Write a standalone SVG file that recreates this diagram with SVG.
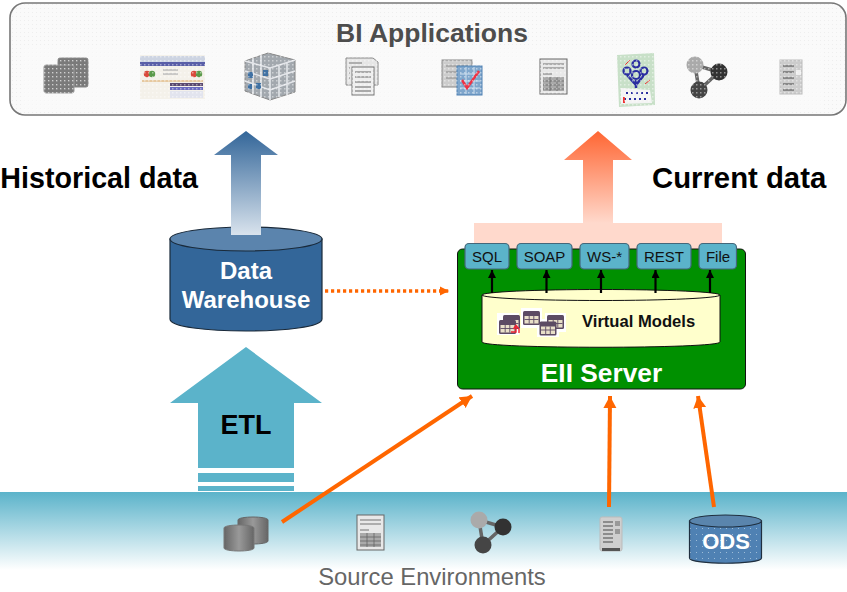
<svg xmlns="http://www.w3.org/2000/svg" width="847" height="592" viewBox="0 0 847 592">
<style>
text{font-family:"Liberation Sans",Arial,sans-serif}
.b{font-weight:bold}
.m{text-anchor:middle}
.btn{fill:#5bb3ca;stroke:#44677a;stroke-width:1.2}
.bt{font-size:15px;fill:#111;text-anchor:middle}
.or{stroke:#ff6600;stroke-width:4;fill:none}
.tk{stroke:#000;stroke-width:2.2;fill:none;marker-end:url(#bk)}
.ball{fill:url(#dots)}
.ic{filter:url(#soft)}
</style>
<defs>
<filter id="soft" x="-10%" y="-10%" width="120%" height="120%"><feGaussianBlur stdDeviation="0.55"/></filter>
<marker id="bk" markerUnits="userSpaceOnUse" markerWidth="9" markerHeight="8" refX="8" refY="4" orient="auto"><path d="M0 0L8 4L0 8z" fill="#000"/></marker>
<marker id="oa" markerUnits="userSpaceOnUse" markerWidth="13" markerHeight="14" refX="12" refY="7" orient="auto"><path d="M0 0.5L12 7L0 13.5z" fill="#ff6600"/></marker>
<marker id="od" markerUnits="userSpaceOnUse" markerWidth="10" markerHeight="10" refX="9" refY="5" orient="auto"><path d="M0 0.5L9 5L0 9.5z" fill="#ff6600"/></marker>
<pattern id="pan" width="4" height="4" patternUnits="userSpaceOnUse"><rect width="4" height="4" fill="#fafafa"/><rect width="1" height="1" fill="#eeeeee"/></pattern>
<pattern id="over" width="4" height="4" patternUnits="userSpaceOnUse"><rect width="1.500" height="1.500" fill="#fff" fill-opacity="0.45"/></pattern>
<pattern id="dots" width="4" height="4" patternUnits="userSpaceOnUse"><rect width="4" height="4" fill="#7a7a7a"/><rect width="1" height="1" fill="#aaa"/></pattern>
<pattern id="ods" width="6" height="6" patternUnits="userSpaceOnUse"><rect width="6" height="6" fill="#4f81b3"/><rect width="1" height="1" fill="#9dbcd8"/></pattern>
<linearGradient id="ga" x1="0" y1="0" x2="0" y2="1"><stop offset="0" stop-color="#336699"/><stop offset="1" stop-color="#d9e3ed"/></linearGradient>
<linearGradient id="oga" x1="0" y1="0" x2="0" y2="1"><stop offset="0" stop-color="#ff6633"/><stop offset="1" stop-color="#ffd9cc"/></linearGradient>
<linearGradient id="sea" x1="0" y1="0" x2="0" y2="1"><stop offset="0" stop-color="#5bb3ca"/><stop offset="1" stop-color="#ffffff"/></linearGradient>
<linearGradient id="cy" x1="0" y1="0" x2="1" y2="0"><stop offset="0" stop-color="#666"/><stop offset="0.5" stop-color="#999"/><stop offset="1" stop-color="#666"/></linearGradient>
<g id="report"><rect x="0" y="0" width="27" height="35" fill="#e8e8e8" stroke="#666"/><path d="M3 5H24M3 9H24M3 15H12" stroke="#999" stroke-width="1.500"/><rect x="3" y="18" width="21" height="14" fill="#aaa"/><path d="M3 22H24M3 26H24M3 30H24M10 18V32M17 18V32" stroke="#666" stroke-width="0.8"/></g>
<g id="graph"><path d="M0 0L24 7L4 25z" fill="none" stroke="#666" stroke-width="3.500"/><circle cx="0" cy="0" r="8.500" fill="#aaa"/><circle cx="24" cy="7" r="8.500" fill="#333"/><circle cx="4" cy="25" r="8.500" fill="#444"/></g>
<g id="server"><rect x="0" y="0" width="22" height="34" rx="2" fill="#cfcfcf" stroke="#bbb"/><path d="M3 5H13M3 9H13M3 13H13M3 17H13M3 21H13M3 25H13" stroke="#777" stroke-width="1.500"/><rect x="15" y="4" width="5" height="5" fill="#999"/><rect x="15" y="12" width="5" height="5" fill="#999"/><rect x="2" y="31" width="18" height="3" fill="#555"/></g>
<g id="tbl"><rect width="17" height="14" rx="1.500" fill="#5c4b63"/><rect x="1.500" y="5" width="14" height="7.500" fill="#e8dfc8"/><path d="M1.500 8.500H15.500M6.200 5V12.500M10.800 5V12.500" stroke="#5c4b63" stroke-width="0.9"/></g>
</defs>

<g id="bi-applications">
<rect x="10" y="3" width="836" height="112" rx="15" fill="url(#pan)" stroke="#777" stroke-width="1.600"/>
<g class="ic">
<g id="bi-icon-1"><rect x="58" y="58" width="30" height="29" rx="2" class="ball" stroke="#888"/><rect x="44" y="65" width="30" height="28" rx="2" class="ball" stroke="#999"/></g>
<g id="bi-icon-2"><rect x="140" y="55" width="65" height="44" fill="#f4f1ea"/><rect x="140" y="56" width="65" height="6" fill="#cdd4e2"/><rect x="140" y="62" width="65" height="4" fill="#5a5fa8"/><circle cx="147" cy="74" r="3.200" fill="#d94a3a"/><circle cx="152" cy="74" r="3.200" fill="#5a9a4a"/><circle cx="194" cy="74" r="3.200" fill="#d94a3a"/><circle cx="199" cy="74" r="3.200" fill="#5a9a4a"/><path d="M142 81H203" stroke="#e6c9a0" stroke-width="2"/><path d="M163 70H178M163 74H178" stroke="#bbb" stroke-width="1.500"/><rect x="170" y="83" width="33" height="3" fill="#5a4a70"/><rect x="170" y="87" width="33" height="3" fill="#6a6ac0"/><rect x="170" y="91" width="33" height="7" fill="#e2e4ee"/></g>
<g id="bi-icon-3"><path d="M245 61L268 53L295 60V92L270 100L245 91z" fill="#a2a8ae" stroke="#888"/><path d="M245 61L270 68L295 60M270 68V100M245 71L270 79L295 71M245 81L270 90L295 81M253 58V94M261 55V97M279 66V97M287 63V95" stroke="#e4e6ea" stroke-width="1.600" fill="none"/><rect x="248" y="72" width="5" height="6" fill="#3f71a3"/><rect x="256" y="83" width="5" height="6" fill="#3f71a3"/><rect x="263" y="70" width="5" height="6" fill="#3f71a3"/><rect x="248" y="84" width="4" height="5" fill="#3f71a3"/></g>
<g id="bi-icon-4"><path d="M346 58H373L378 62V85H346z" fill="#e6e6e6" stroke="#888"/><rect x="352" y="67" width="22" height="28" fill="#eee" stroke="#777"/><path d="M355 72H371M355 77H371M355 82H371M355 87H371M355 91H371" stroke="#666"/><path d="M349 63H362M349 68H350M349 73H350M349 78H350" stroke="#777"/></g>
<g id="bi-icon-5"><rect x="442" y="60" width="30" height="27" fill="#ccc" stroke="#888"/><path d="M446 66H468M446 72H468M446 78H468" stroke="#888"/><rect x="457" y="66" width="25" height="29" fill="#7fa6cc" stroke="#4f81b3"/><path d="M460 74H480M460 81H480M460 88H480M466 67V94M474 67V94" stroke="#cfe0ef"/><path d="M462 80L467 88L479 71" stroke="#ee3344" stroke-width="2.500" fill="none"/></g>
<use id="bi-icon-6" href="#report" x="540" y="59"/>
<g id="bi-icon-7"><path d="M617 55L654 53L655 105L619 107z" fill="#c8e0c8"/><path d="M621 88L650 90L652 103L621 104z" fill="#f4f4f4"/><g fill="none" stroke="#2a2fa0" stroke-width="2.200"><circle cx="636" cy="64" r="3.500"/><circle cx="627" cy="71" r="3.500"/><circle cx="644" cy="71" r="3.500"/><circle cx="636" cy="75" r="4"/></g><path d="M627 75L636 85L644 75M636 80V88" stroke="#2a2fa0" stroke-width="2.500" fill="none"/><path d="M626 93H648M624 99H648" stroke="#2a2fa0" stroke-dasharray="2 3" stroke-width="2"/><path d="M624 97v6" stroke="#e33" stroke-width="2"/><path d="M630 60L625 65M645 84L650 80" stroke="#e33"/></g>
<use id="bi-icon-8" href="#graph" x="695" y="65"/>
<g id="bi-icon-9"><rect x="780" y="60" width="22" height="34" fill="#ccc" stroke="#bbb"/><path d="M783 66H794M783 72H794M783 78H794M783 84H794M783 90H794" stroke="#888" stroke-width="2"/><rect x="796" y="70" width="5" height="5" fill="#eee"/></g>
</g>
<rect x="24" y="48" width="800" height="62" fill="url(#over)"/>
<text class="b m" x="432" y="42" font-size="26.500" fill="#4d4d4d">BI Applications</text>
</g>

<g id="source-environments">
<rect x="0" y="492" width="847" height="78" fill="url(#sea)"/>
<text class="m" x="432" y="585" font-size="23.800" fill="#666">Source Environments</text>
<g class="ic">
<g id="src-icon-1"><path d="M238 520C238 516 268 516 268 520V541C268 545 238 545 238 541z" fill="url(#cy)" stroke="#666"/><path d="M224 528C224 524 254 524 254 528V548C254 552 224 552 224 548z" fill="url(#cy)" stroke="#777"/></g>
<use id="src-icon-2" href="#report" x="357" y="515"/>
<use id="src-icon-3" href="#graph" x="479" y="520"/>
<use id="src-icon-4" href="#server" x="600" y="517"/>
</g>
<g id="ods"><path d="M689.500 521V558C689.500 565 761.500 565 761.500 558V521z" fill="url(#ods)" stroke="#1f2f3f" stroke-width="1.200"/><ellipse cx="725.500" cy="521" rx="36" ry="6" fill="#5a85ad" stroke="#1f2f3f" stroke-width="1.200"/><text class="b m" x="726" y="549" font-size="22" fill="#fff">ODS</text></g>
</g>

<g id="etl-arrow">
<path d="M246 347L322 403H294V468H198V403H170z" fill="#5bb3ca"/>
<rect x="198" y="473" width="96" height="9" fill="#5bb3ca"/>
<rect x="198" y="486" width="96" height="5" fill="#5bb3ca"/>
<text class="b m" x="246" y="434" font-size="27" fill="#000">ETL</text>
</g>

<g id="data-warehouse">
<path d="M170 239V319C170 335 322 335 322 319V239z" fill="#336699" stroke="#1a2a3a" stroke-width="1.200"/>
<ellipse cx="246" cy="239" rx="76" ry="12" fill="#5b84ad" stroke="#1a2a3a" stroke-width="1.200"/>
<text class="b m" x="246" y="279" font-size="24" fill="#fff">Data</text>
<text class="b m" x="246" y="308" font-size="24" fill="#fff">Warehouse</text>
</g>

<g id="historical-arrow">
<path d="M246 131L278 155H261V235H231V155H214z" fill="url(#ga)"/>
<text class="b" x="0.300" y="188" font-size="28.700" fill="#000">Historical data</text>
</g>

<g id="current-arrow">
<path d="M598 131L632 160H613V223H583V160H564z" fill="url(#oga)"/>
<rect x="474" y="223" width="248" height="30" fill="#ffd9cc"/>
<text class="b" x="652" y="188" font-size="29.300" fill="#000">Current data</text>
</g>

<g id="eii-server">
<rect x="457.500" y="249" width="288" height="140" rx="5" fill="#009000" stroke="#111" stroke-width="1"/>
<text class="b m" x="601.500" y="382" font-size="26.300" fill="#fff">EII Server</text>
</g>
<g id="virtual-models">
<path d="M482 295V342C482 349 720 349 720 342V295z" fill="#ffffcc" stroke="#111" stroke-width="1"/>
<ellipse cx="601" cy="295" rx="119" ry="5.500" fill="#ffffcc" stroke="#111" stroke-width="1"/>
<text class="b" x="582" y="327" font-size="16.600" fill="#111">Virtual Models</text>
<g id="tables">
<rect x="497" y="313" width="22" height="22" fill="#fff"/><rect x="521" y="308" width="21" height="20" fill="#fff"/><rect x="545" y="313" width="21" height="19" fill="#fff"/><rect x="537" y="319" width="22" height="18" fill="#fff"/>
<use href="#tbl" x="503" y="315"/><use href="#tbl" x="499" y="320"/><use href="#tbl" x="523" y="311"/><use href="#tbl" x="547" y="315"/><use href="#tbl" x="539.500" y="321.500"/>
<path d="M511 332H516V327M513.500 329L516 325.500L519 329M519 329V333" fill="none" stroke="#ee2233" stroke-width="1.400"/>
</g>
</g>
<g id="protocols">
<g id="sql"><rect class="btn" x="465" y="243.500" width="44" height="25.500" rx="4"/><text class="bt" x="487" y="262">SQL</text></g>
<g id="soap"><rect class="btn" x="517" y="243.500" width="55" height="25.500" rx="4"/><text class="bt" x="544.500" y="262">SOAP</text></g>
<g id="ws"><rect class="btn" x="580" y="243.500" width="49" height="25.500" rx="4"/><text class="bt" x="604.500" y="262">WS-*</text></g>
<g id="rest"><rect class="btn" x="637" y="243.500" width="54" height="25.500" rx="4"/><text class="bt" x="664" y="262">REST</text></g>
<g id="file"><rect class="btn" x="699" y="243.500" width="37.500" height="25.500" rx="4"/><text class="bt" x="718" y="262">File</text></g>
</g>

<g id="connectors">
<path class="tk" d="M492 293V270"/>
<path class="tk" d="M546.500 293V270"/>
<path class="tk" d="M601 293V270"/>
<path class="tk" d="M655.500 293V270"/>
<path class="tk" d="M710 293V270"/>
<path class="or" d="M325 291H449" style="stroke-width:3.500;stroke-dasharray:3.200 2.800;marker-end:url(#od)"/>
<path class="or" d="M282 522L472 396" style="marker-end:url(#oa)"/>
<path class="or" d="M609 507L610 396" style="marker-end:url(#oa)"/>
<path class="or" d="M714 507L698 396" style="marker-end:url(#oa)"/>
</g>
</svg>
